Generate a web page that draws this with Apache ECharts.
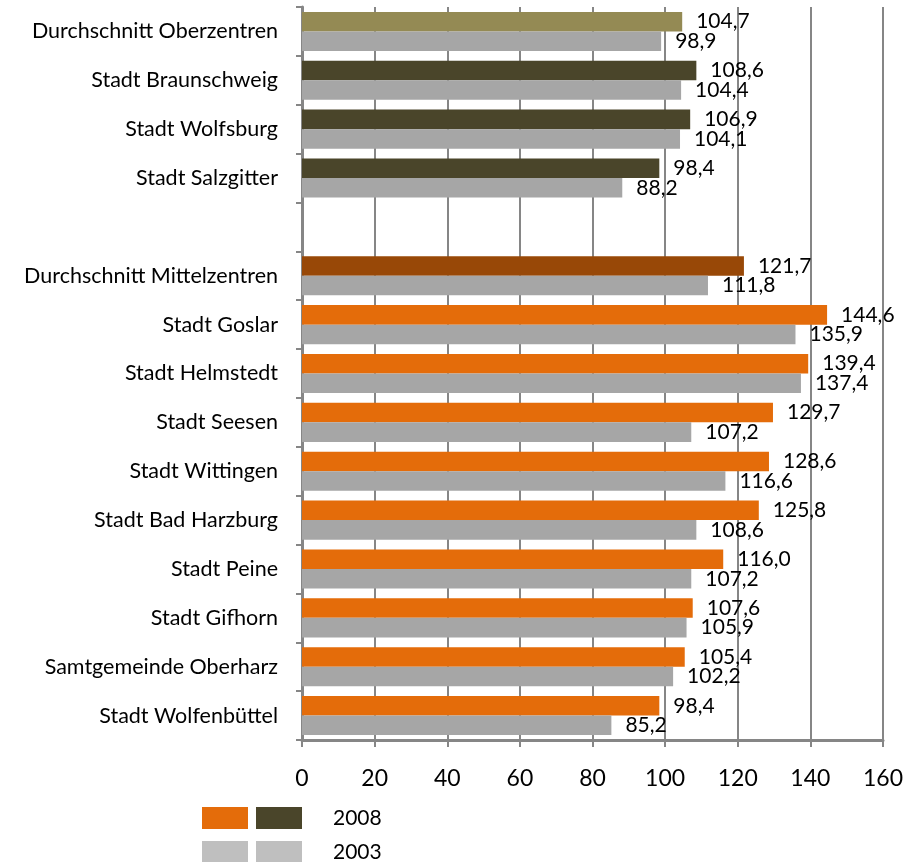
<!DOCTYPE html>
<html>
<head>
<meta charset="utf-8">
<script src="https://cdn.jsdelivr.net/npm/echarts@6/dist/echarts.min.js"></script>
<style>
  html, body { margin: 0; padding: 0; background: #fff; }
  #main { width: 924px; height: 862px; }
</style>
</head>
<body>
<div id="main"></div>
<script>
// Kategorien von oben nach unten (leere Zeile trennt Ober- und Mittelzentren)
var categories = [
    'Durchschnitt Oberzentren', 'Stadt Braunschweig', 'Stadt Wolfsburg', 'Stadt Salzgitter',
    '',
    'Durchschnitt Mittelzentren', 'Stadt Goslar', 'Stadt Helmstedt', 'Stadt Seesen',
    'Stadt Wittingen', 'Stadt Bad Harzburg', 'Stadt Peine', 'Stadt Gifhorn',
    'Samtgemeinde Oberharz', 'Stadt Wolfenbüttel'
];
var values2008 = [104.7, 108.6, 106.9, 98.4, null, 121.7, 144.6, 139.4, 129.7, 128.6, 125.8, 116.0, 107.6, 105.4, 98.4];
var values2003 = [98.9, 104.4, 104.1, 88.2, null, 111.8, 135.9, 137.4, 107.2, 116.6, 108.6, 107.2, 105.9, 102.2, 85.2];
var xTicks = [0, 20, 40, 60, 80, 100, 120, 140, 160];

var FONT = 'Lato';
var grau = '#868686';

// Farbe der 2008-Balken je nach Gruppe
function color2008(i) {
    if (i === 0) return '#948A54';
    if (i < 4) return '#4A452A';
    if (i === 5) return '#984807';
    return '#E46C0A';
}

function fmt(v) {
    return v.toFixed(1).replace('.', ',');
}

var myChart = echarts.init(document.getElementById('main'));

var option = {
    animation: false,
    textStyle: { fontFamily: FONT },
    grid: { left: 302, right: 41, top: 7, bottom: 122 },
    xAxis: {
        type: 'value',
        min: xTicks[0],
        max: xTicks[xTicks.length - 1],
        interval: 20,
        axisLine: { show: true, lineStyle: { color: grau, width: 3 } },
        axisTick: { show: true, length: 7, lineStyle: { color: grau, width: 2 } },
        splitLine: { show: true, lineStyle: { color: grau, width: 2 } },
        axisLabel: { color: '#000', fontSize: 23, margin: 27, fontFamily: FONT }
    },
    yAxis: {
        type: 'category',
        inverse: true,
        data: categories,
        axisLine: { show: true, lineStyle: { color: grau, width: 3 } },
        axisTick: { show: true, length: 6, alignWithLabel: false, lineStyle: { color: grau, width: 2 } },
        axisLabel: { color: '#000', fontSize: 21.5, margin: 24, fontFamily: FONT }
    },
    legend: [{
        orient: 'vertical',
        left: 202, top: 807, height: 120, padding: 0,
        itemWidth: 46, itemHeight: 22, itemGap: 12,
        icon: 'rect',
        selectedMode: false,
        formatter: function () { return ''; },
        data: [
            { name: '2008', itemStyle: { color: '#E46C0A' } },
            { name: '2003', itemStyle: { color: '#BFBFBF' } }
        ]
    }, {
        orient: 'vertical',
        left: 256, top: 807, height: 120, padding: 0,
        itemWidth: 46, itemHeight: 22, itemGap: 12,
        icon: 'rect',
        selectedMode: false,
        textStyle: { color: '#000', fontSize: 21, fontFamily: FONT, padding: [0, 0, 0, 26] },
        data: [
            { name: '2008', itemStyle: { color: '#4A452A' } },
            { name: '2003', itemStyle: { color: '#BFBFBF' } }
        ]
    }],
    series: [{
        name: '2008',
        type: 'bar',
        barGap: '0%',
        barCategoryGap: '20%',
        data: values2008.map(function (v, i) {
            return { value: v, itemStyle: { color: color2008(i) } };
        }),
        label: {
            show: true,
            position: 'right',
            distance: 14,
            color: '#000',
            fontSize: 21,
            fontFamily: FONT,
            formatter: function (p) { return p.value == null ? '' : fmt(p.value); }
        }
    }, {
        name: '2003',
        type: 'bar',
        barGap: '0%',
        barCategoryGap: '20%',
        itemStyle: { color: '#A6A6A6' },
        data: values2003,
        label: {
            show: true,
            position: 'right',
            distance: 14,
            color: '#000',
            fontSize: 21,
            fontFamily: FONT,
            formatter: function (p) { return p.value == null ? '' : fmt(p.value); }
        }
    }]
};

myChart.setOption(option);
</script>
</body>
</html>
